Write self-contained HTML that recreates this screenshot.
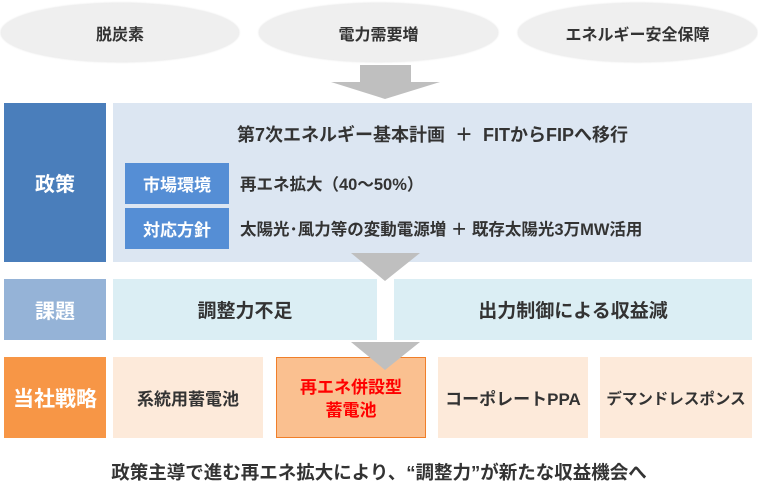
<!DOCTYPE html>
<html><head><meta charset="utf-8"><style>
body{margin:0;width:758px;height:497px;background:#fff;position:relative;overflow:hidden;font-family:"Liberation Sans","Noto Sans CJK JP",sans-serif;font-weight:bold;color:#333}
.a{position:absolute;display:flex;align-items:center;justify-content:center;text-align:center;box-sizing:border-box;white-space:nowrap}
.el{background:#efefef;border-radius:50%;font-size:16px;color:#333;box-shadow:0 0 2px #ddd}
.lab{color:#fff;font-size:20px}
</style></head><body>
<div class="a el" style="left:1px;top:3px;width:238px;height:59px">脱炭素</div>
<div class="a el" style="left:259px;top:3px;width:239px;height:59px">電力需要増</div>
<div class="a el" style="left:518px;top:3px;width:239px;height:59px">エネルギー安全保障</div>
<svg style="position:absolute;left:0;top:0" width="758" height="497">
<polygon points="360,65 411,65 411,82 440,82 385,99 331,82 360,82" fill="#bfbfbf"/>
</svg>
<div class="a lab" style="left:4px;top:103px;width:102px;height:159px;background:#4a7ebb">政策</div>
<div class="a" style="left:113px;top:103px;width:639px;height:159px;background:#dce6f2"></div>
<div class="a" style="left:113px;top:120px;width:639px;height:28px;font-size:18px">第7次エネルギー基本計画 &nbsp;＋ &nbsp;FITからFIPへ移行</div>
<div class="a lab" style="left:125px;top:163px;width:104px;height:41px;background:#558ed5;font-size:17px">市場環境</div>
<div class="a lab" style="left:125px;top:208px;width:104px;height:41px;background:#558ed5;font-size:17px">対応方針</div>
<div class="a" style="left:240px;top:169px;height:28px;font-size:16.5px;justify-content:flex-start">再エネ拡大（40～50%）</div>
<div class="a" style="left:240px;top:214px;height:28px;font-size:16.5px;justify-content:flex-start">太陽光･風力等の変動電源増 ＋ 既存太陽光3万MW活用</div>
<div class="a lab" style="left:4px;top:279px;width:102px;height:61px;background:#95b3d7">課題</div>
<div class="a" style="left:113px;top:279px;width:264px;height:61px;background:#dbeef4;font-size:19px">調整力不足</div>
<div class="a" style="left:394px;top:279px;width:358px;height:61px;background:#dbeef4;font-size:19px">出力制御による収益減</div>
<div class="a lab" style="left:4px;top:357px;width:102px;height:81px;background:#f79646;font-size:21px">当社戦略</div>
<div class="a" style="left:113px;top:357px;width:150px;height:81px;background:#fdeada;font-size:17px">系統用蓄電池</div>
<div class="a" style="left:276px;top:357px;width:150px;height:81px;background:#fac090;border:1.5px solid #f07f2a;font-size:17px;color:#f00;padding-top:4px;line-height:1.35">再エネ併設型<br>蓄電池</div>
<div class="a" style="left:438px;top:357px;width:150px;height:81px;background:#fdeada;font-size:17px">コーポレートPPA</div>
<div class="a" style="left:600px;top:357px;width:152px;height:81px;background:#fdeada;font-size:15.5px">デマンドレスポンス</div>
<svg style="position:absolute;left:0;top:0" width="758" height="497">
<polygon points="351,253 420,253 385,281" fill="#bfbfbf"/>
<polygon points="351,342 420,342 385,370" fill="#bfbfbf"/>
</svg>
<div class="a" style="left:0;top:458px;width:758px;height:28px;font-size:18.5px">政策主導で進む再エネ拡大により、“調整力”が新たな収益機会へ</div>
</body></html>
